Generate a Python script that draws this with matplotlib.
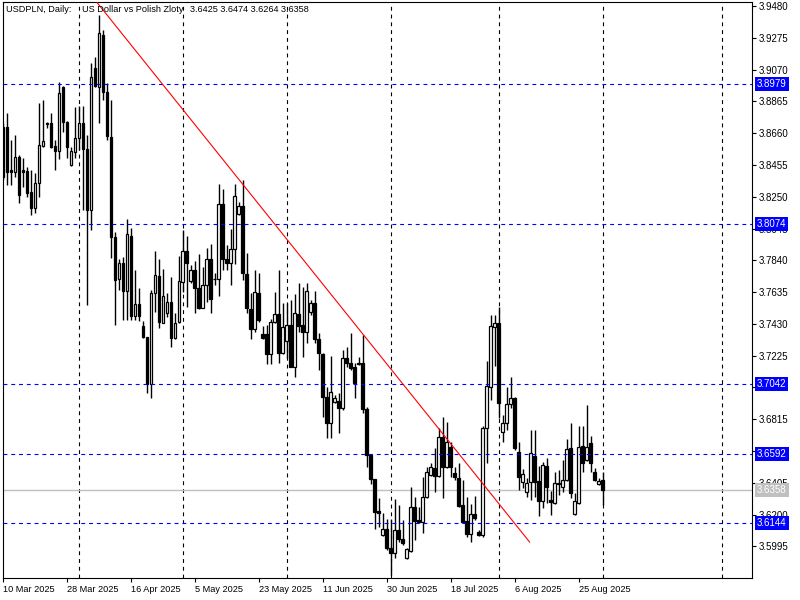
import numpy as np
import pandas as pd
import matplotlib
matplotlib.use("Agg")
import matplotlib.pyplot as plt
import matplotlib.transforms as mtransforms

plt.rcParams['font.family'] = ['Liberation Sans', 'DejaVu Sans']

# ----------------------------
# DATA  (USDPLN daily bars, Sunday bars included like the terminal shows)
# ----------------------------
opens = [
    3.8702, 3.8698, 3.8423, 3.8412, 3.8509, 3.8423, 3.8418, 3.8283, 3.8175, 3.8337,
    3.8579, 3.8719, 3.8724, 3.8579, 3.8547, 3.8960, 3.8734, 3.8455, 3.8541, 3.8627,
    3.8724, 3.8558, 3.8165, 3.9078, 3.8960, 3.9293, 3.8928, 3.8638, 3.7988, 3.7719,
    3.7821, 3.7644, 3.7997, 3.7483, 3.7556, 3.7416, 3.7343, 3.7040, 3.7627, 3.7739,
    3.7438, 3.7502, 3.7569, 3.7341, 3.7444, 3.7702, 3.7900, 3.7709, 3.7778, 3.7659,
    3.7535, 3.7679, 3.7846, 3.7717, 3.7717, 3.8201, 3.7846, 3.7821, 3.7911, 3.8137,
    3.8190, 3.7750, 3.7524, 3.7395, 3.7627, 3.7365, 3.7365, 3.7234, 3.7440, 3.7494,
    3.7244, 3.7320, 3.7423, 3.7154, 3.7492, 3.7423, 3.7380, 3.7504, 3.7563, 3.7330,
    3.7236, 3.6961, 3.6789, 3.6928, 3.6933, 3.6885, 3.7208, 3.7176, 3.7154, 3.7173,
    3.7176, 3.6879, 3.6584, 3.6427, 3.6223, 3.6068, 3.6105, 3.5982, 3.5954, 3.6101,
    3.6042, 3.5918, 3.5967, 3.6247, 3.6165, 3.6152, 3.6311, 3.6455, 3.6503, 3.6451,
    3.6698, 3.6509, 3.6634, 3.6466, 3.6438, 3.6262, 3.6159, 3.6073, 3.6202, 3.6090,
    3.6068, 3.6756, 3.7021, 3.7412, 3.7434, 3.6735, 3.6789, 3.6913, 3.6950, 3.6601,
    3.6412, 3.6343, 3.6412, 3.6578, 3.6417, 3.6288, 3.6515, 3.6294, 3.6273, 3.6397,
    3.6376, 3.6423, 3.6632, 3.6202, 3.6273, 3.6644, 3.6552, 3.6660, 3.6472, 3.6395,
    3.6425]

highs = [
    3.8724, 3.8792, 3.8616, 3.8648, 3.8519, 3.8498, 3.8444, 3.8423, 3.8401, 3.8853,
    3.8874, 3.8734, 3.8788, 3.8616, 3.8992, 3.8964, 3.8741, 3.8573, 3.8831, 3.8835,
    3.8835, 3.8648, 3.9111, 3.9154, 3.9422, 3.9326, 3.8982, 3.8874, 3.8025, 3.7846,
    3.7859, 3.8104, 3.8046, 3.7778, 3.7659, 3.7449, 3.7348, 3.7649, 3.7900, 3.7846,
    3.7782, 3.7627, 3.7735, 3.7498, 3.7868, 3.8036, 3.7997, 3.7810, 3.7836, 3.7881,
    3.7799, 3.7917, 3.7943, 3.7756, 3.8332, 3.8298, 3.7939, 3.8040, 3.8332, 3.8218,
    3.8358, 3.7889, 3.7627, 3.7778, 3.7756, 3.7416, 3.7423, 3.7459, 3.7638, 3.7778,
    3.7563, 3.7563, 3.7584, 3.7621, 3.7692, 3.7670, 3.7696, 3.7584, 3.7642, 3.7373,
    3.7240, 3.7025, 3.7223, 3.6971, 3.6982, 3.7262, 3.7283, 3.7373, 3.7176, 3.7219,
    3.7358, 3.6892, 3.6591, 3.6430, 3.6305, 3.6212, 3.6169, 3.6169, 3.6298, 3.6262,
    3.6165, 3.5987, 3.6376, 3.6311, 3.6251, 3.6445, 3.6509, 3.6535, 3.6627, 3.6761,
    3.6832, 3.6799, 3.6670, 3.6509, 3.6531, 3.6423, 3.6316, 3.6268, 3.6320, 3.6101,
    3.6771, 3.7191, 3.7487, 3.7487, 3.7541, 3.6842, 3.7021, 3.7085, 3.6961, 3.6670,
    3.6492, 3.6438, 3.6746, 3.6746, 3.6513, 3.6541, 3.6567, 3.6352, 3.6477, 3.6488,
    3.6552, 3.6685, 3.6793, 3.6341, 3.6771, 3.6771, 3.6907, 3.6707, 3.6498, 3.6434,
    3.6474]

lows = [
    3.8358, 3.8326, 3.8326, 3.8380, 3.8208, 3.8315, 3.8246, 3.8132, 3.8143, 3.8251,
    3.8573, 3.8691, 3.8562, 3.8423, 3.8491, 3.8670, 3.8498, 3.8450, 3.8498, 3.8552,
    3.8165, 3.7552, 3.8036, 3.8956, 3.8724, 3.8874, 3.8616, 3.7853, 3.7423, 3.7649,
    3.7455, 3.7455, 3.7455, 3.7455, 3.7451, 3.7337, 3.6986, 3.6950, 3.7509, 3.7401,
    3.7434, 3.7477, 3.7279, 3.7330, 3.7434, 3.7638, 3.7537, 3.7692, 3.7498, 3.7524,
    3.7530, 3.7573, 3.7502, 3.7681, 3.7612, 3.7778, 3.7778, 3.7681, 3.7816, 3.8132,
    3.7713, 3.7502, 3.7330, 3.7380, 3.7444, 3.7330, 3.7171, 3.7171, 3.7434, 3.7176,
    3.7236, 3.7208, 3.7150, 3.7090, 3.7380, 3.7219, 3.7309, 3.7487, 3.7305, 3.7133,
    3.6832, 3.6692, 3.6692, 3.6918, 3.6728, 3.6875, 3.7154, 3.7133, 3.6950, 3.7165,
    3.6853, 3.6505, 3.6397, 3.6105, 3.6122, 3.6062, 3.5972, 3.5810, 3.5918, 3.6025,
    3.6004, 3.5911, 3.5961, 3.6036, 3.6144, 3.6079, 3.6305, 3.6449, 3.6348, 3.6445,
    3.6309, 3.6498, 3.6445, 3.6423, 3.6251, 3.6144, 3.6058, 3.6025, 3.6165, 3.6062,
    3.6058, 3.6531, 3.6939, 3.7158, 3.6821, 3.6670, 3.6746, 3.6885, 3.6617, 3.6359,
    3.6369, 3.6311, 3.6294, 3.6316, 3.6191, 3.6240, 3.6273, 3.6197, 3.6268, 3.6326,
    3.6348, 3.6417, 3.6305, 3.6197, 3.6268, 3.6477, 3.6548, 3.6477, 3.6419, 3.6391,
    3.6264]

closes = [
    3.8380, 3.8412, 3.8412, 3.8509, 3.8261, 3.8412, 3.8276, 3.8175, 3.8337, 3.8584,
    3.8610, 3.8724, 3.8573, 3.8547, 3.8917, 3.8734, 3.8573, 3.8545, 3.8627, 3.8724,
    3.8558, 3.8165, 3.9020, 3.8964, 3.9304, 3.8928, 3.8642, 3.7993, 3.7713, 3.7821,
    3.7644, 3.8008, 3.7483, 3.7556, 3.7483, 3.7348, 3.7040, 3.7627, 3.7743, 3.7444,
    3.7610, 3.7569, 3.7341, 3.7434, 3.7707, 3.7900, 3.7821, 3.7778, 3.7659, 3.7535,
    3.7679, 3.7846, 3.7588, 3.7722, 3.8201, 3.7846, 3.7821, 3.7915, 3.8255, 3.8190,
    3.7756, 3.7530, 3.7397, 3.7633, 3.7455, 3.7337, 3.7234, 3.7440, 3.7494, 3.7244,
    3.7412, 3.7423, 3.7154, 3.7498, 3.7418, 3.7380, 3.7642, 3.7563, 3.7330, 3.7240,
    3.6961, 3.6789, 3.6993, 3.6950, 3.6885, 3.7208, 3.7176, 3.7148, 3.7047, 3.7178,
    3.6879, 3.6584, 3.6427, 3.6219, 3.6212, 3.6105, 3.5982, 3.5954, 3.6101, 3.6042,
    3.6019, 3.5976, 3.6247, 3.6159, 3.6152, 3.6311, 3.6472, 3.6509, 3.6451, 3.6698,
    3.6509, 3.6666, 3.6509, 3.6445, 3.6257, 3.6154, 3.6073, 3.6202, 3.6176, 3.6068,
    3.6756, 3.7029, 3.7416, 3.7434, 3.6918, 3.6789, 3.6913, 3.6950, 3.6627, 3.6440,
    3.6462, 3.6406, 3.6595, 3.6412, 3.6288, 3.6520, 3.6380, 3.6283, 3.6406, 3.6406,
    3.6423, 3.6623, 3.6341, 3.6288, 3.6634, 3.6535, 3.6634, 3.6535, 3.6423, 3.6417,
    3.6358]

first_day = "2025-03-10"
levels = [3.8979, 3.8074, 3.7042, 3.6592, 3.6144]
bid = 3.6358
# trend line anchors: (bar number, price)
trend_start = (23.55, 3.9502)
trend_end = (131.75, 3.6023)

price_ticks = [3.5995, 3.6200, 3.6405, 3.6610, 3.6815, 3.7020, 3.7225, 3.7430, 3.7635,
               3.7840, 3.8045, 3.8250, 3.8455, 3.8660, 3.8865, 3.9070, 3.9275, 3.9480]

FS = 6.6

# ----------------------------
# DATES (no Saturday bars)
# ----------------------------
n = len(opens)
days = pd.date_range(first_day, periods=n * 2, freq="D")
days = days[days.dayofweek != 5][:n]

label_idx = list(range(0, n, 16))
label_txt = [f"{days[i].day} {days[i].strftime('%b %Y')}" for i in label_idx]

# month separators (grid lines); future month counted in calendar days
grid_idx = [i for i in range(1, n) if days[i].month != days[i - 1].month]
next_month = (days[-1] + pd.offsets.MonthBegin(1))
grid_idx.append(n - 1 + (next_month - days[-1]).days)

# ----------------------------
# PLOT
# ----------------------------
fig = plt.figure(figsize=(8, 6), dpi=100)
ax = fig.add_axes([3 / 800, 22 / 600, 749 / 800, 576 / 600])

x = np.arange(n)
o, h, l, c = map(np.array, (opens, highs, lows, closes))
up = c >= o

ax.vlines(x, l, h, color="black", lw=1, zorder=2)
ax.bar(x[up], (c - o)[up], bottom=o[up], width=0.68, facecolor="white",
       edgecolor="black", lw=0.9, zorder=3)
ax.bar(x[~up], (o - c)[~up], bottom=c[~up], width=0.68, facecolor="black",
       edgecolor="black", lw=0.9, zorder=3)

for g in grid_idx:
    ax.axvline(g, color="black", lw=0.8, ls=(0, (3.5, 3.5)), zorder=1)

ax.axhline(bid, color="#c0c0c0", lw=1, zorder=1)
for lv in levels:
    ax.axhline(lv, color="#0000ff", lw=0.8, ls=(0, (3.5, 3.5)), zorder=4)

ax.plot([trend_start[0], trend_end[0]], [trend_start[1], trend_end[1]],
        color="red", lw=0.8, zorder=5)

ax.set_xlim(0.175, 187.4)
ax.set_ylim(3.57909, 3.95061)

ax.yaxis.tick_right()
ax.set_yticks(price_ticks)
ax.set_yticklabels([f"{p:.4f}" for p in price_ticks])
ax.tick_params(axis="y", length=3, width=0.8, pad=1.5, labelsize=FS + 0.4)

ax.set_xticks(label_idx)
ax.set_xticklabels(label_txt, ha="left")
ax.tick_params(axis="x", length=3, width=0.8, pad=2, labelsize=FS)

for sp in ax.spines.values():
    sp.set_linewidth(0.8)

# price labels for the levels (they cover the axis labels, as in the terminal)
trans = mtransforms.blended_transform_factory(ax.transAxes, ax.transData)
for lv in levels:
    ax.text(1.0067, lv, f"{lv:.4f}", transform=trans, color="white", fontsize=FS + 0.4,
            va="center", ha="left", clip_on=False, zorder=6,
            bbox=dict(boxstyle="square,pad=0.2", fc="#0000ff", ec="none"))
ax.text(1.0067, bid, f"{bid:.4f}", transform=trans, color="white", fontsize=FS + 0.4,
        va="center", ha="left", clip_on=False, zorder=6,
        bbox=dict(boxstyle="square,pad=0.2", fc="#c0c0c0", ec="none"))

# header line
fig.text(6 / 800, 1 - 10 / 600, "USDPLN, Daily:", fontsize=FS, va="center")
fig.text(82 / 800, 1 - 10 / 600, "US Dollar vs Polish Zloty", fontsize=FS, va="center")
fig.text(190 / 800, 1 - 10 / 600,
         f"{opens[-1]:.4f} {highs[-1]:.4f} {lows[-1]:.4f} {closes[-1]:.4f}",
         fontsize=FS, va="center")

fig.savefig("out.png", dpi=100)
